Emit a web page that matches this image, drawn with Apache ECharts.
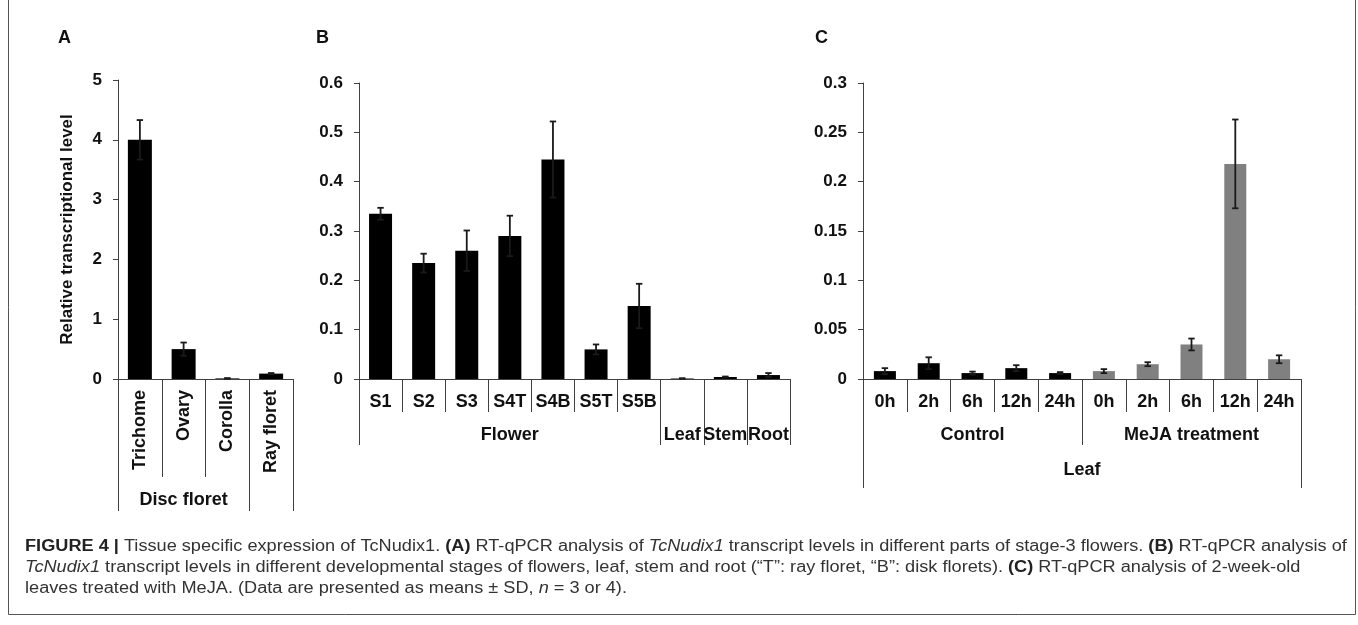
<!DOCTYPE html>
<html>
<head>
<meta charset="utf-8">
<script src="https://cdn.jsdelivr.net/npm/echarts@6/dist/echarts.min.js"></script>
<style>
html,body{margin:0;padding:0;background:#fff;}
#chart{width:1358px;height:625px;}
</style>
</head>
<body>
<div id="chart"></div>
<script>
// ---------- Panel A ----------
const catA = ['Trichome', 'Ovary', 'Corolla', 'Ray floret'];
const groupA = ['', 'Disc floret', '', ''];
const meanA = [4.0, 0.50, 0.01, 0.09];
const sdA = [0.33, 0.11, 0.005, 0.01];
// ---------- Panel B ----------
const catB = ['S1', 'S2', 'S3', 'S4T', 'S4B', 'S5T', 'S5B', '', '', ''];
const groupB = ['', '', '', 'Flower', '', '', '', 'Leaf', 'Stem', 'Root'];
const meanB = [0.335, 0.235, 0.26, 0.29, 0.445, 0.06, 0.148, 0.001, 0.004, 0.008];
const sdB = [0.012, 0.019, 0.041, 0.041, 0.077, 0.01, 0.045, 0.0005, 0.001, 0.004];
// ---------- Panel C ----------
const catC = ['0h', '2h', '6h', '12h', '24h', '0h', '2h', '6h', '12h', '24h'];
const groupC = ['', '', 'Control', '', '', '', '', 'MeJA treatment', '', ''];
const treatC = ['Control', 'Control', 'Control', 'Control', 'Control', 'MeJA', 'MeJA', 'MeJA', 'MeJA', 'MeJA'];
const tissueC = 'Leaf';
const meanC = [0.008, 0.016, 0.006, 0.011, 0.006, 0.008, 0.015, 0.035, 0.218, 0.020];
const sdC = [0.003, 0.006, 0.0015, 0.003, 0.001, 0.002, 0.002, 0.006, 0.045, 0.004];

const yTitle = 'Relative transcriptional level';
const captionLines = [
  '{b|FIGURE 4 |} Tissue specific expression of TcNudix1. {b|(A)} RT-qPCR analysis of {i|TcNudix1} transcript levels in different parts of stage-3 flowers. {b|(B)} RT-qPCR analysis of',
  '{i|TcNudix1} transcript levels in different developmental stages of flowers, leaf, stem and root (“T”: ray floret, “B”: disk florets). {b|(C)} RT-qPCR analysis of 2-week-old',
  'leaves treated with MeJA. (Data are presented as means ± SD, {i|n} = 3 or 4).'
];

const FONT = '"Liberation Sans", Arial, Helvetica, sans-serif';
const AX = '#404040';

const chart = echarts.init(document.getElementById('chart'), null, {renderer: 'canvas'});

function yAxisCfg(gi, max, interval, extra) {
  return Object.assign({
    type: 'value', gridIndex: gi, min: 0, max: max, interval: interval,
    axisLine: {show: true, lineStyle: {color: AX, width: 1}},
    axisTick: {show: true, length: 5, lineStyle: {color: AX}},
    splitLine: {show: false},
    axisLabel: {fontFamily: FONT, fontWeight: 'bold', fontSize: 17, color: '#111', margin: 16}
  }, extra || {});
}

function xAxisCfg(gi, data, tickLen, margin, tickShow, extra) {
  return Object.assign({
    type: 'category', gridIndex: gi, data: data, position: 'bottom', boundaryGap: true,
    axisLine: {show: true, lineStyle: {color: AX, width: 1}},
    axisTick: {show: true, length: tickLen, alignWithLabel: false, interval: tickShow || 0, lineStyle: {color: AX}},
    axisLabel: {interval: 0, fontFamily: FONT, fontWeight: 'bold', fontSize: 18, color: '#111', margin: margin},
    splitLine: {show: false}
  }, extra || {});
}

function errSeries(xi, yi, means, sds) {
  return {
    type: 'custom', xAxisIndex: xi, yAxisIndex: yi, z: 10,
    data: means.map((m, i) => [i, m, sds[i]]),
    encode: {x: 0, y: 1},
    renderItem: function (params, api) {
      const i = api.value(0), m = api.value(1), s = api.value(2);
      const hi = api.coord([i, m + s]);
      const lo = api.coord([i, Math.max(0, m - s)]);
      const cw = 3.2;
      const st = {stroke: '#1a1a1a', lineWidth: 1.8};
      return {type: 'group', children: [
        {type: 'line', shape: {x1: hi[0], y1: hi[1], x2: lo[0], y2: lo[1]}, style: st},
        {type: 'line', shape: {x1: hi[0] - cw, y1: hi[1], x2: hi[0] + cw, y2: hi[1]}, style: st},
        {type: 'line', shape: {x1: lo[0] - cw, y1: lo[1], x2: lo[0] + cw, y2: lo[1]}, style: st}
      ]};
    }
  };
}

const option = {
  animation: false,
  backgroundColor: '#fff',
  grid: [
    {left: 118, top: 80, width: 175, height: 299},
    {left: 359, top: 83, width: 431, height: 296},
    {left: 863, top: 83, width: 438, height: 296}
  ],
  yAxis: [
    yAxisCfg(0, 5, 1, {
      name: yTitle, nameLocation: 'middle', nameGap: 42, nameRotate: 90,
      nameTextStyle: {fontFamily: FONT, fontWeight: 'bold', fontSize: 17, color: '#111'}
    }),
    yAxisCfg(1, 0.6, 0.1),
    yAxisCfg(2, 0.3, 0.05)
  ],
  xAxis: [
    // A row 1 (rotated labels)
    xAxisCfg(0, catA, 98, 11, 0, {axisLabel: {interval: 0, rotate: 90, fontFamily: FONT, fontWeight: 'bold', fontSize: 18, color: '#111', margin: 11}}),
    // A row 2
    xAxisCfg(0, groupA, 132, 112, (i) => i === 0 || i === 3, {axisLine: {show: false}}),
    // B row 1
    xAxisCfg(1, catB, 33, 14),
    // B row 2
    xAxisCfg(1, groupB, 66, 47, (i) => i === 0 || i >= 7, {axisLine: {show: false}}),
    // C row 1
    xAxisCfg(2, catC, 33, 14),
    // C row 2
    xAxisCfg(2, groupC, 66, 47, (i) => i === 0 || i === 5, {axisLine: {show: false}}),
    // C row 3
    xAxisCfg(2, catC.map(() => ''), 109, 0, (i) => i === 0, {
      axisLine: {show: false}, axisLabel: {show: false},
      name: tissueC, nameLocation: 'middle', nameGap: 82,
      nameTextStyle: {fontFamily: FONT, fontWeight: 'bold', fontSize: 18, color: '#111'}
    })
  ],
  series: [
    {type: 'bar', xAxisIndex: 0, yAxisIndex: 0, data: meanA, barWidth: 24, itemStyle: {color: '#000'}},
    errSeries(0, 0, meanA, sdA),
    {type: 'bar', xAxisIndex: 2, yAxisIndex: 1, data: meanB, barWidth: 23, itemStyle: {color: '#000'}},
    errSeries(2, 1, meanB, sdB),
    {type: 'bar', xAxisIndex: 4, yAxisIndex: 2, data: meanC, barWidth: 22,
      itemStyle: {color: (p) => treatC[p.dataIndex] === 'Control' ? '#000' : '#808080'}},
    errSeries(4, 2, meanC, sdC)
  ],
  graphic: [
    {type: 'polyline', silent: true, shape: {points: [[8.5, 0], [8.5, 614.5], [1355.5, 614.5], [1355.5, 0]]},
      style: {stroke: '#555', lineWidth: 1, fill: null}},
    {type: 'text', left: 58, top: 29, style: {text: 'A', font: 'bold 18px ' + FONT, fill: '#111'}},
    {type: 'text', left: 316, top: 29, style: {text: 'B', font: 'bold 18px ' + FONT, fill: '#111'}},
    {type: 'text', left: 815, top: 29, style: {text: 'C', font: 'bold 18px ' + FONT, fill: '#111'}}
  ].concat(captionLines.map((t, k) => ({
    type: 'text', x: 25, y: 539 + k * 21, scaleX: 1.135, silent: true,
    style: {
      text: t, font: '16px ' + FONT, fill: '#333', verticalAlign: 'top', align: 'left',
      rich: {
        b: {fontWeight: 'bold', fontSize: 16, fontFamily: FONT, fill: '#222'},
        i: {fontStyle: 'italic', fontSize: 16, fontFamily: FONT, fill: '#333'}
      }
    }
  })))
};
chart.setOption(option);
</script>
</body>
</html>
